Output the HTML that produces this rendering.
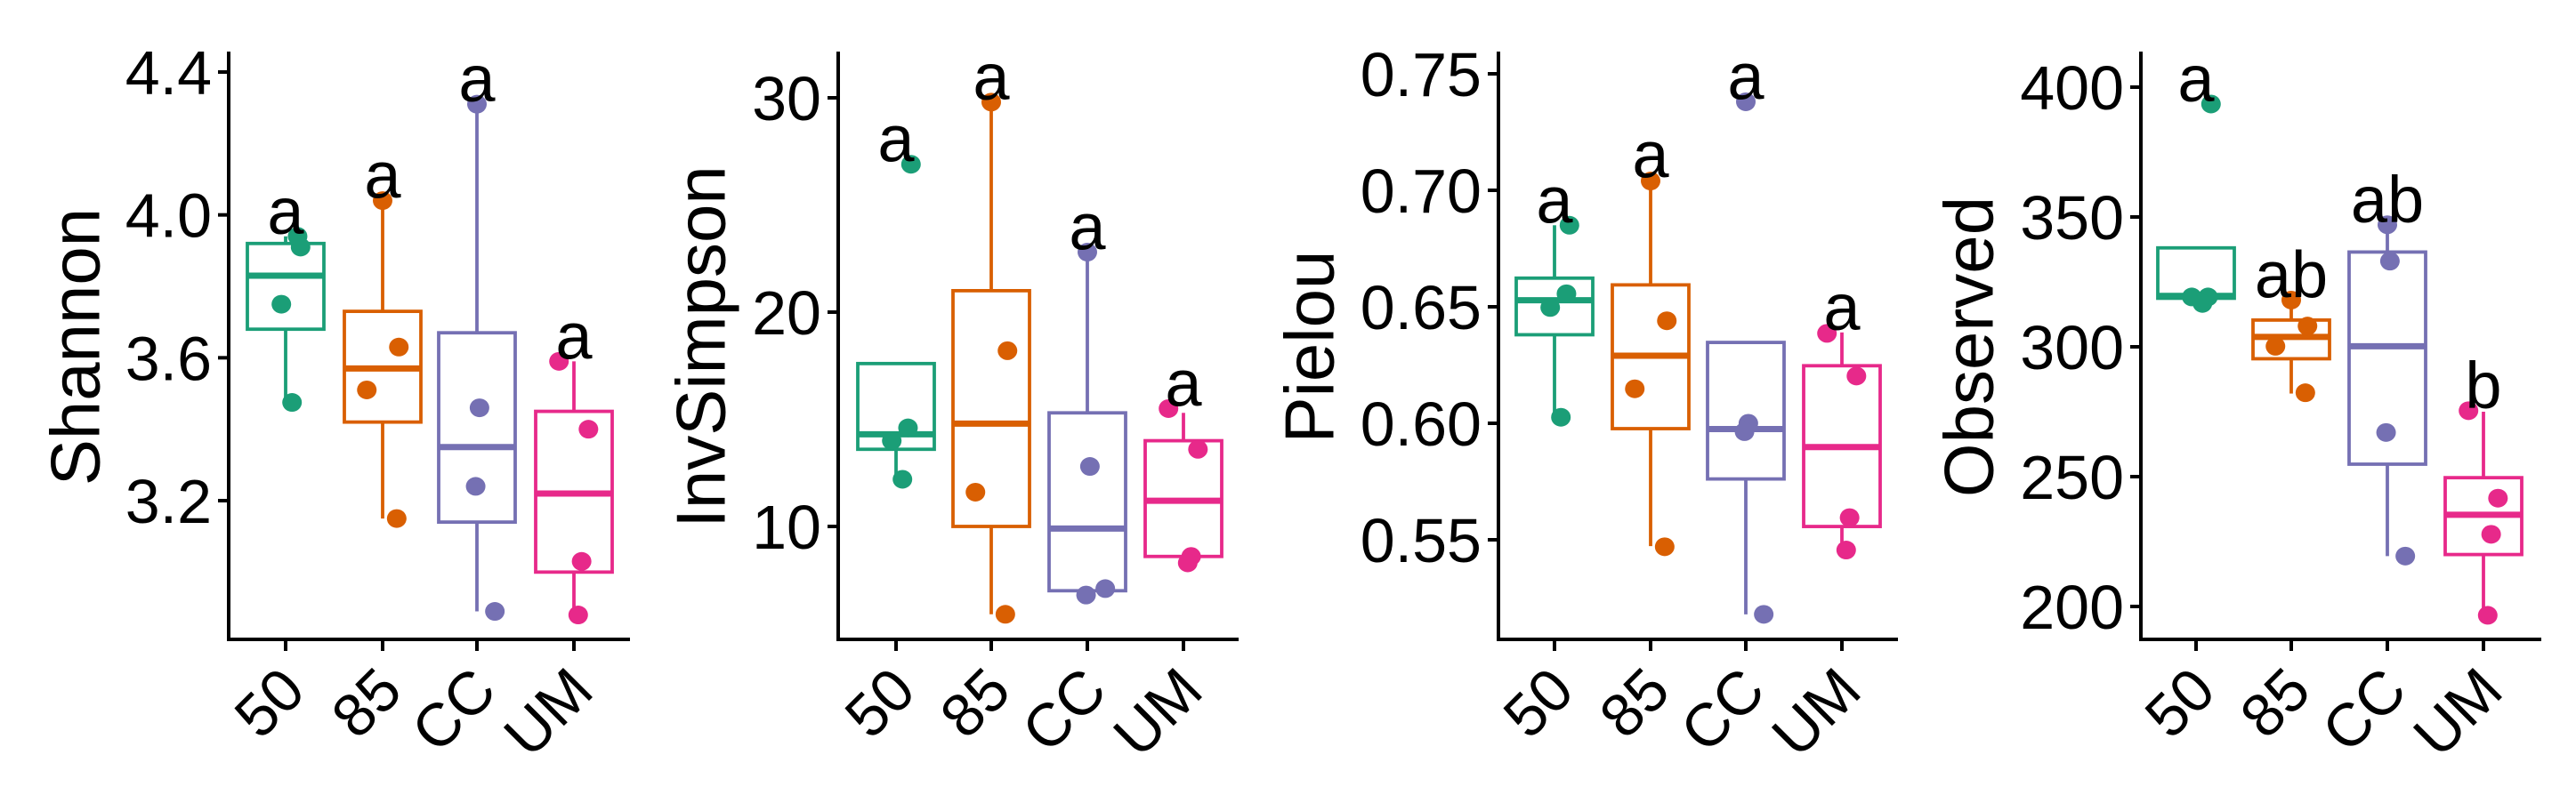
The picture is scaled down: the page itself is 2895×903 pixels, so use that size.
<!DOCTYPE html>
<html><head><meta charset="utf-8"><style>
html,body{margin:0;padding:0;background:#fff;}
svg{display:block;}
text{font-family:"Liberation Sans",Arial,sans-serif;fill:#000;}
</style></head><body>
<svg id="chart" width="2895" height="903" viewBox="0 0 2895 903" xmlns="http://www.w3.org/2000/svg"></svg>
<script>
const categories = ["50","85","CC","UM"];
const colors = ["#1B9E77","#D95F02","#7570B3","#E7298A"];

// Shannon
const shannonBoxes = [[3.48,3.68,3.83,3.92,3.94],[3.15,3.42,3.57,3.73,4.04],[2.89,3.14,3.35,3.67,4.31],[2.88,3.00,3.22,3.45,3.59]];
const shannonPoints = [[3.91,3.94,3.75,3.475],[4.04,3.63,3.51,3.15],[4.31,3.46,3.24,2.89],[3.59,3.40,3.03,2.88]];
const shannonTicks = [3.2,3.6,4.0,4.4];
const shannonLetters = ["a","a","a","a"];
// InvSimpson
const invBoxes = [[12.2,13.6,14.3,17.6,17.6],[5.9,10.0,14.8,21.0,29.8],[7.0,7.0,9.9,15.3,22.8],[8.6,8.6,11.2,14.0,15.3]];
const invPoints = [[26.9,14.6,14.0,12.2],[29.8,18.2,11.6,5.9],[22.8,12.8,6.8,7.1],[15.5,13.6,8.6,8.3]];
const invTicks = [10,20,30];
const invLetters = ["a","a","a","a"];
// Pielou
const pielouBoxes = [[0.6026,0.638,0.6528,0.6623,0.685],[0.5473,0.5977,0.629,0.6594,0.7043],[0.518,0.5761,0.5975,0.6347,0.6347],[0.5456,0.5557,0.5898,0.6247,0.639]];
const pielouPoints = [[0.685,0.6556,0.6497,0.6026],[0.704,0.644,0.6148,0.547],[0.738,0.600,0.5964,0.518],[0.6386,0.6203,0.5595,0.5456]];
const pielouTicks = [0.55,0.60,0.65,0.70,0.75];
const pielouLetters = ["a","a","a","a"];
// Observed
const obsBoxes = [[318.7,318.7,319.6,338.1,338.1],[282,295.4,303.8,310.3,317.7],[219.4,254.8,300.2,336.5,347],[196.6,220,235.3,249.6,275]];
const obsPoints = [[393.5,319.2,319.2,316.7],[318,308,300.2,282.3],[347,333,267,219.4],[275.4,241.7,227.8,196.6]];
const obsTicks = [200,250,300,350,400];
const obsLetters = ["a","ab","ab","b"];

const jitter = [[0.35,0.28,-0.1,0.15],[0.0,0.38,-0.37,0.33],[0.0,0.06,-0.03,0.42],[-0.35,0.34,0.18,0.1]];

const panels = [
 {name:"shannon",title:"Shannon",ax:257,xr:708,cx:[321,430,536,645],t1:[3.2,563],t2:[4.4,81],boxes:shannonBoxes,pts:shannonPoints,ticks:shannonTicks,lab:v=>v.toFixed(1),letters:shannonLetters,tx:84},
 {name:"invsimpson",title:"InvSimpson",ax:942,xr:1392,cx:[1007,1114,1222,1330],t1:[10,592],t2:[30,110],boxes:invBoxes,pts:invPoints,ticks:invTicks,lab:v=>String(v),letters:invLetters,tx:787},
 {name:"pielou",title:"Pielou",ax:1684,xr:2133,cx:[1747,1855,1962,2070],t1:[0.55,607],t2:[0.75,83],boxes:pielouBoxes,pts:pielouPoints,ticks:pielouTicks,lab:v=>v.toFixed(2),letters:pielouLetters,tx:1471},
 {name:"observed",title:"Observed",ax:2406,xr:2856,cx:[2468,2575,2683,2791],t1:[200,682],t2:[400,98],boxes:obsBoxes,pts:obsPoints,ticks:obsTicks,lab:v=>String(v),letters:obsLetters,tx:2212}
];
const NS="http://www.w3.org/2000/svg";
const svg=document.getElementById("chart");
const top0=58, bot=719;
function mk(tag,attrs,parent){const e=document.createElementNS(NS,tag);for(const k in attrs)e.setAttribute(k,attrs[k]);(parent||svg).appendChild(e);return e;}

panels.forEach(p=>{
  const g=mk("g",{});
  
  
  const y=v=>p.t1[1]+(v-p.t1[0])*(p.t2[1]-p.t1[1])/(p.t2[0]-p.t1[0]);
  const bw=43;
  p.boxes.forEach((b,i)=>{
    const c=colors[i], x=p.cx[i];
    const bg=mk("g",{},g);
    
    
    if(b[4]>b[3]) mk("line",{x1:x,x2:x,y1:y(b[3]),y2:y(b[4]),stroke:c,"stroke-width":3.8},bg);
    if(b[0]<b[1]) mk("line",{x1:x,x2:x,y1:y(b[1]),y2:y(b[0]),stroke:c,"stroke-width":3.8},bg);
    mk("rect",{x:x-bw,y:y(b[3]),width:2*bw,height:y(b[1])-y(b[3]),fill:"#fff",stroke:c,"stroke-width":3.8},bg);
    mk("line",{x1:x-bw,x2:x+bw,y1:y(b[2]),y2:y(b[2]),stroke:c,"stroke-width":7},bg);
  });
  p.pts.forEach((arr,i)=>{
    arr.forEach((v,j)=>{
      const d=mk("ellipse",{cx:p.cx[i]+jitter[i][j]*48,cy:y(v),rx:11,ry:10.5,fill:colors[i]},g);
      
      
    });
    const mx=Math.max(...arr.concat([p.boxes[i][4]]));
    const t=mk("text",{x:p.cx[i],y:y(mx)-3,"text-anchor":"middle","font-size":74},g);
    t.textContent=p.letters[i];
    
    
  });
  const ya=mk("line",{x1:p.ax,x2:p.ax,y1:top0,y2:bot+2,stroke:"#000","stroke-width":4},g);
  
  
  const xa=mk("line",{x1:p.ax-2,x2:p.xr,y1:bot,y2:bot,stroke:"#000","stroke-width":4},g);
  
  
  p.ticks.forEach(v=>{
    mk("line",{x1:p.ax-12,x2:p.ax,y1:y(v),y2:y(v),stroke:"#000","stroke-width":4},g);
    const t=mk("text",{x:p.ax-19,y:y(v)+25,"text-anchor":"end","font-size":70},g);
    t.textContent=p.lab(v);
    
    
  });
  categories.forEach((c,i)=>{
    const x=p.cx[i];
    mk("line",{x1:x,x2:x,y1:bot,y2:bot+13,stroke:"#000","stroke-width":4},g);
    const t=mk("text",{x:x+25,y:780,"text-anchor":"end","font-size":68,transform:"rotate(-45 "+(x+25)+" 780)"},g);
    t.textContent=c;
    
    
  });
  const tt=mk("text",{x:p.tx,y:390,"text-anchor":"middle","font-size":78,transform:"rotate(-90 "+p.tx+" 390)",dy:"0.35em"},g);
  tt.textContent=p.title;
  
  
});
</script>
</body></html>
